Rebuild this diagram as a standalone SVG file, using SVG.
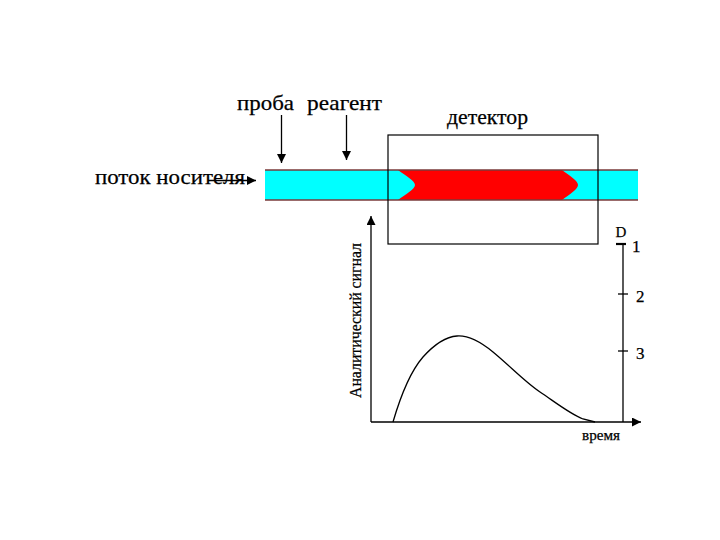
<svg xmlns="http://www.w3.org/2000/svg" width="720" height="540" viewBox="0 0 720 540">
<defs>
<style>
.t{font-family:"Liberation Serif","Times New Roman",serif;fill:#000;stroke:#000;stroke-width:0.25}
.ln{stroke:#000;stroke-width:1.3;fill:none}
.tube-edge{stroke:#7a3a3a;stroke-width:1.5}
</style>
<marker id="ahL" viewBox="0 0 10 10" refX="10" refY="5" markerWidth="12" markerHeight="9" markerUnits="userSpaceOnUse" orient="auto">
<path d="M0,0 L10,5 L0,10 Z" fill="#000"/>
</marker>
</defs>
<rect width="720" height="540" fill="#fff"/>

<g id="tube">
<rect x="265" y="170" width="373" height="30" fill="#00ffff"/>
<path d="M398,170 L562,170 C570,176 578,181 578,185 C578,189 570,194 562,200 L398,200 C406,194 415,189 415,185 C415,181 406,176 398,170 Z" fill="#ff0000"/>
<line class="tube-edge" x1="265" y1="170" x2="638" y2="170"/>
<line class="tube-edge" x1="265" y1="200" x2="638" y2="200"/>
</g>

<g id="detector">
<rect x="388" y="135" width="210" height="109" fill="none" stroke="#000" stroke-width="1.2"/>
<text class="t" x="447" y="124" font-size="22" textLength="81" lengthAdjust="spacingAndGlyphs">детектор</text>
</g>

<g id="labels">
<text class="t" x="237" y="110" font-size="22" textLength="57" lengthAdjust="spacingAndGlyphs">проба</text>
<text class="t" x="307" y="110" font-size="22" textLength="75" lengthAdjust="spacingAndGlyphs">реагент</text>
<text class="t" x="95" y="184" font-size="22" textLength="150" lengthAdjust="spacingAndGlyphs">поток носителя</text>
</g>

<g id="connectors">
<line class="ln" x1="281.5" y1="115" x2="281.5" y2="163" marker-end="url(#ahL)"/>
<line class="ln" x1="346.5" y1="115" x2="346.5" y2="160" marker-end="url(#ahL)"/>
<line class="ln" x1="208" y1="180.5" x2="256" y2="180.5" marker-end="url(#ahL)"/>
</g>

<g id="graph">
<line class="ln" x1="371" y1="422" x2="371" y2="216" marker-end="url(#ahL)"/>
<line class="ln" x1="371" y1="422" x2="641" y2="422" marker-end="url(#ahL)"/>
<line class="ln" x1="623" y1="244" x2="623" y2="422"/>
<line x1="616" y1="244" x2="626" y2="244" stroke="#000" stroke-width="2.2"/>
<line class="ln" x1="618" y1="294" x2="628" y2="294"/>
<line class="ln" x1="618" y1="351" x2="628" y2="351"/>
<text class="t" x="621" y="237" font-size="15" text-anchor="middle" stroke-width="0">D</text>
<text class="t" x="632" y="252" font-size="17" stroke-width="0">1</text>
<text class="t" x="636" y="302" font-size="17" stroke-width="0">2</text>
<text class="t" x="636" y="359" font-size="17" stroke-width="0">3</text>
<text class="t" x="582" y="440" font-size="15" textLength="38" lengthAdjust="spacingAndGlyphs" stroke-width="0">время</text>
<text class="t" font-size="16" textLength="155" lengthAdjust="spacingAndGlyphs" transform="translate(361,398) rotate(-90)">Аналитический сигнал</text>
<path class="ln" stroke-width="1" d="M393,422 C400,398 410,372 423,357 C432,347 443,337 457,336 C470,335 482,343 493,352 C510,366 525,382 540,392 C555,402 570,414 583,419 L595,422"/>
</g>
</svg>
